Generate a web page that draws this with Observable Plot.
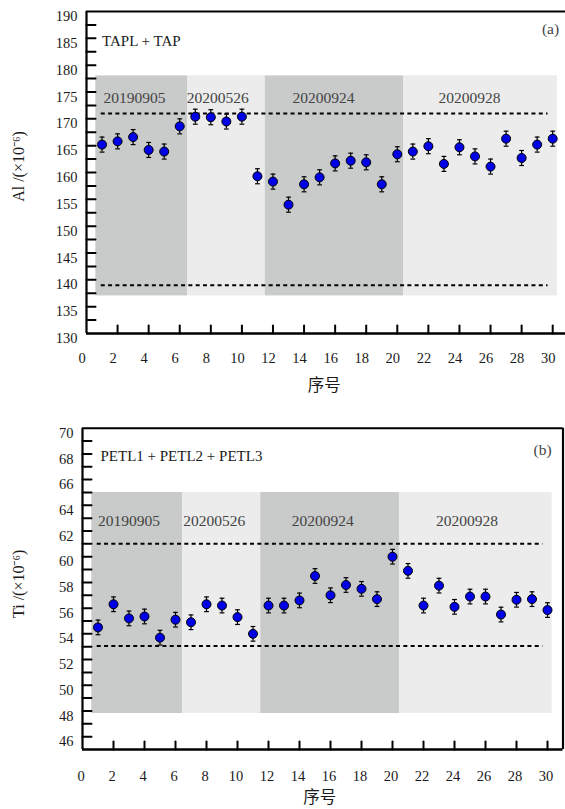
<!DOCTYPE html>
<html><head><meta charset="utf-8">
<script src="https://cdn.jsdelivr.net/npm/d3@7"></script>
<script src="https://cdn.jsdelivr.net/npm/@observablehq/plot@0.6"></script>
<style>
html,body{margin:0;padding:0;background:#fff}
#a,#b{display:block;width:565px;overflow:hidden}
svg{display:block}
</style>
</head><body><div id="a"></div><div id="b"></div>
<script>
// ---- data ----
const sampleIds = d3.range(1, 31);
const alValues = [165.2,165.8,166.6,164.2,163.9,168.6,170.4,170.3,169.5,170.4,
                  159.3,158.3,154.0,157.8,159.1,161.7,162.2,161.9,157.8,163.4,
                  163.9,164.9,161.6,164.7,163.0,161.1,166.3,162.7,165.2,166.3];
const alError = 1.4;
const tiValues = [54.5,56.3,55.2,55.35,53.7,55.1,54.9,56.3,56.2,55.3,
                  54.0,56.2,56.2,56.6,58.5,57.0,57.8,57.5,56.7,60.0,
                  58.9,56.2,57.75,56.1,56.9,56.9,55.5,56.65,56.7,55.85];
const tiError = 0.57;
const batchLabels = ["20190905", "20200526", "20200924", "20200928"];
const alBatchStart = [0.6, 6.5, 11.5, 20.4];
const alBatchEnd = [6.5, 11.5, 20.4, 30.3];
const tiBatchStart = [0.6, 6.45, 11.5, 20.45];
const tiBatchEnd = [6.45, 11.5, 20.45, 30.3];
const alLimits = [171, 139];
const tiLimits = [61.0, 53.05];
const xTickLabels = d3.range(0, 31, 2);
const xTickMarks = d3.range(2, 31, 2);
const alTickLabels = d3.range(130, 191, 5);
const alTickMarks = d3.range(132.5, 190, 2.5);
const tiTickLabels = d3.range(46, 71, 2);
const tiTickMarks = d3.range(46, 70, 1);

const SERIF = "'Liberation Serif', 'Times New Roman', serif";
const CJK = "'Noto Sans CJK SC', sans-serif";
const DARK = "#c9caca", LIGHT = "#ececec", BLUE = "#0000e6";

const lineShape = {draw(ctx, l) { ctx.moveTo(0, 0); ctx.lineTo(0, -l); }};
const capSymbol = {draw(ctx, size) { const w = Math.sqrt(size / Math.PI); ctx.moveTo(-w, 0); ctx.lineTo(w, 0); }};

function panel(opt) {
  const rows = sampleIds.map((id, i) => ({id, v: opt.values[i]}));
  const batches = batchLabels.map((label, i) => ({label, x1: opt.start[i], x2: opt.end[i], lx: opt.labelX[i]}));
  const [y0, y1] = opt.yDomain;
  return Plot.plot({
    width: 565, height: opt.height,
    marginTop: opt.marginTop, marginBottom: opt.marginBottom, marginLeft: opt.left, marginRight: 0,
    style: {fontFamily: SERIF, background: "#fff", overflow: "visible"},
    x: {domain: [0, 31], range: [opt.left, opt.left + 31 * opt.xStep], axis: null},
    y: {domain: opt.yDomain, axis: null},
    marks: [
      Plot.rect(batches, {x1: "x1", x2: "x2", y1: opt.rectY[0], y2: opt.rectY[1], fill: (d, i) => i % 2 ? LIGHT : DARK}),
      Plot.text(batches, {x: "lx", y: opt.batchY, text: "label", textAnchor: "start", fontSize: 15.5, fill: "#444", fontFamily: SERIF}),
      Plot.ruleY(opt.limits, {x1: 0.95, x2: 29.7, stroke: "#000", strokeWidth: 2, strokeDasharray: "4,3.3"}),
      Plot.ruleX(rows, {x: "id", y1: d => d.v - opt.err, y2: d => d.v + opt.err, stroke: "#000", strokeWidth: 1.2}),
      Plot.dot(rows, {x: "id", y: d => d.v - opt.err, r: 2.4, symbol: capSymbol, stroke: "#000", strokeWidth: 1.2}),
      Plot.dot(rows, {x: "id", y: d => d.v + opt.err, r: 2.4, symbol: capSymbol, stroke: "#000", strokeWidth: 1.2}),
      Plot.dot(rows, {x: "id", y: "v", r: 4.5, fill: BLUE, stroke: "#000", strokeWidth: 1}),
      // frame
      Plot.ruleY([y1], {x1: 0, x2: 31, stroke: "#000", strokeWidth: 2}),
      Plot.ruleY([y0], {x1: 0, x2: 31, stroke: "#000", strokeWidth: 2.4}),
      Plot.ruleX([0, 31], {y1: y0, y2: y1, stroke: "#000", strokeWidth: 2.2}),
      // ticks
      Plot.vector(xTickMarks, {x: d => d, y: y0, length: 8, anchor: "start", rotate: 0, shape: lineShape, stroke: "#000", strokeWidth: 2}),
      Plot.vector(opt.yTickMarks, {x: 0, y: d => d, length: 9, anchor: "start", rotate: 90, shape: lineShape, stroke: "#000", strokeWidth: 2}),
      // tick labels
      Plot.text(xTickLabels, {x: d => d, y: y0, dy: opt.xLabelDy, dx: opt.xLabelDx, text: d => String(d), fontSize: 14.5, fill: "#1a1a1a", fontFamily: SERIF}),
      Plot.text(opt.yTickLabels, {x: 0, y: d => d, dx: -9, dy: 5, text: d => String(d), textAnchor: "end", fontSize: 14.5, fill: "#1a1a1a", fontFamily: SERIF}),
      // titles
      Plot.text([opt.yTitle], {frameAnchor: "left", textAnchor: "middle", lineAnchor: "middle", dx: 18 - opt.left, dy: opt.yTitleDy, rotate: -90, text: d => d, fontSize: 16, fill: "#1a1a1a", fontFamily: SERIF}),
      Plot.text(["序号"], {frameAnchor: "bottom", textAnchor: "middle", lineAnchor: "middle", x: 15.3, dy: opt.xTitleDy, text: d => d, fontSize: 16.5, fill: "#1a1a1a", fontFamily: CJK}),
      Plot.text([opt.name], {x: opt.nameX, y: opt.nameY, text: d => d, textAnchor: "start", fontSize: 15, fill: "#1a1a1a", fontFamily: SERIF}),
      Plot.text([opt.tag], {x: opt.tagX, y: opt.tagY, text: d => d, fontSize: 15.5, fill: "#444", fontFamily: SERIF})
    ]
  });
}

document.getElementById("a").append(panel({
  values: alValues, err: alError, start: alBatchStart, end: alBatchEnd,
  labelX: [1.1, 6.45, 13.25, 22.65], batchY: 173.9, rectY: [137, 178], limits: alLimits,
  height: 400, marginTop: 11, marginBottom: 67, left: 86, xStep: 15.54,
  yDomain: [130, 190], yTickMarks: alTickMarks, yTickLabels: alTickLabels,
  xLabelDy: 25, xLabelDx: -4.5, xTitleDy: 52, yTitleDy: -6,
  yTitle: "Al /(×10⁻⁶)", name: "TAPL + TAP", nameX: 1.0, nameY: 184.4, tag: "(a)", tagX: 29.86, tagY: 186.8
}));
document.getElementById("b").append(panel({
  values: tiValues, err: tiError, start: tiBatchStart, end: tiBatchEnd,
  labelX: [1.0, 6.5, 13.5, 22.8], batchY: 62.75, rectY: [47.8, 65], limits: tiLimits,
  height: 409, marginTop: 27.7, marginBottom: 60, left: 82, xStep: 15.5,
  yDomain: [45, 70], yTickMarks: tiTickMarks, yTickLabels: tiTickLabels,
  xLabelDy: 27, xLabelDx: -1.5, xTitleDy: 48, yTitleDy: -5,
  yTitle: "Ti /(×10⁻⁶)", name: "PETL1 + PETL2 + PETL3", nameX: 1.16, nameY: 67.8, tag: "(b)", tagX: 29.68, tagY: 68.27
}));
</script>
</body></html>
